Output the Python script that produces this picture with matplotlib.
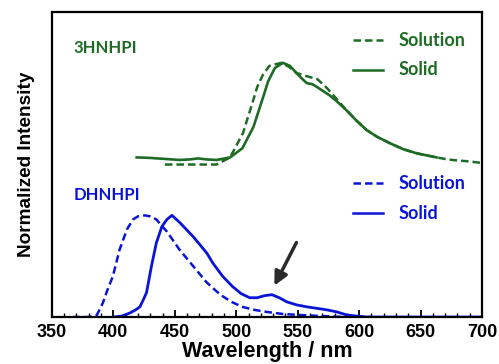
import numpy as np
import matplotlib
matplotlib.use('Agg')
import matplotlib.pyplot as plt

# 3HNHPI (green), normalized, offset upwards
g_sol_wl = [442, 460, 484, 495, 505.5, 513, 517, 522, 527, 533, 537, 543, 549, 557, 566, 574, 582, 590, 598, 606, 615, 625, 636, 647, 655, 663, 672, 680, 690, 700]
g_sol_y = [0.0, 0.0, 0.0, 0.07, 0.31, 0.60, 0.76, 0.89, 0.97, 0.99, 1.0, 0.96, 0.90, 0.87, 0.84, 0.75, 0.64, 0.53, 0.43, 0.34, 0.27, 0.21, 0.15, 0.11, 0.09, 0.07, 0.05, 0.04, 0.03, 0.015]
g_sld_wl = [419, 430, 442, 454, 462, 469, 476, 484, 495, 505, 514, 521, 526, 531.5, 538, 543.7, 549, 553, 557.5, 562, 566, 571, 576, 582, 590, 598, 606, 615, 625, 636, 647, 655, 663]
g_sld_y = [0.07, 0.065, 0.055, 0.045, 0.05, 0.06, 0.05, 0.045, 0.07, 0.16, 0.37, 0.63, 0.82, 0.95, 1.0, 0.97, 0.90, 0.85, 0.80, 0.79, 0.76, 0.72, 0.68, 0.62, 0.53, 0.43, 0.34, 0.27, 0.21, 0.15, 0.11, 0.09, 0.07]

# DHNHPI (blue), normalized
b_sol_wl = [367, 380, 386.6, 391.5, 395, 399.6, 405, 411, 416, 420, 425.7, 430, 435, 443.6, 454, 465, 476, 487, 496, 505, 515, 525, 538, 552, 570, 590, 610]
b_sol_y = [0.0, 0.0, 0.02, 0.14, 0.26, 0.40, 0.66, 0.86, 0.96, 0.99, 1.0, 0.99, 0.96, 0.84, 0.66, 0.50, 0.34, 0.22, 0.15, 0.10, 0.07, 0.05, 0.03, 0.02, 0.01, 0.0, 0.0]
b_sld_wl = [400, 407, 413.5, 418, 421.6, 424, 427, 431, 435, 439.5, 443.6, 447.7, 454, 465, 476, 481, 489, 497, 504, 511, 517, 523, 529, 535, 541, 549, 557.5, 566, 574, 582, 590, 598, 606, 630, 670, 700]
b_sld_y = [0.0, 0.01, 0.04, 0.07, 0.10, 0.16, 0.24, 0.50, 0.73, 0.89, 0.96, 1.0, 0.93, 0.79, 0.63, 0.53, 0.40, 0.30, 0.23, 0.19, 0.19, 0.21, 0.22, 0.19, 0.15, 0.12, 0.10, 0.085, 0.07, 0.05, 0.02, 0.01, 0.0, 0.0, 0.0, 0.0]

green_offset = 1.5
green = '#1d6b24'
blue = '#0a14d8'

fig = plt.figure(figsize=(4.99, 3.64), dpi=100)
ax = fig.add_axes([0.104, 0.129, 0.862, 0.838])

dash = (0, (3.0, 1.6))
ax.plot(g_sol_wl, np.array(g_sol_y) + green_offset, color=green, lw=1.8, linestyle=dash)
ax.plot(g_sld_wl, np.array(g_sld_y) + green_offset, color=green, lw=1.9)
ax.plot(b_sol_wl, b_sol_y, color=blue, lw=1.8, linestyle=dash)
ax.plot(b_sld_wl, b_sld_y, color=blue, lw=2.0)

ax.annotate('', xy=(530, 0.285), xytext=(550, 0.757),
            arrowprops=dict(arrowstyle='-|>,head_length=0.8,head_width=0.4', color='#2b2b2b', lw=2.5))

ax.set_xlim(350, 700)
ax.set_ylim(0, 3)
ax.set_yticks([])
ax.set_xticks(np.arange(350, 701, 50))
ax.set_xticks(np.arange(350, 701, 10), minor=True)
ax.tick_params(axis='x', which='major', direction='in', length=5, width=1.3, top=False, pad=5)
ax.tick_params(axis='x', which='minor', direction='in', length=3, width=1.0, top=False)
for s in ax.spines.values():
    s.set_linewidth(1.6)
for lab in ax.get_xticklabels():
    lab.set_fontfamily('Liberation Sans')
    lab.set_fontweight('bold')
    lab.set_fontsize(13)

ax.set_xlabel('Wavelength / nm', fontfamily='Liberation Sans', fontweight='bold', fontsize=15.5, labelpad=0)
ax.set_ylabel('Normalized Intensity', fontfamily='Liberation Sans', fontweight='bold', fontsize=13.7, labelpad=12)

lab_font = dict(fontfamily='Lato', fontweight='bold', va='center', transform=ax.transAxes)
ax.text(0.051, 0.882, '3HNHPI', color=green, fontsize=12, **lab_font)
ax.text(0.051, 0.400, 'DHNHPI', color=blue, fontsize=12, **lab_font)

leg = [(0.908, dash, green, 'Solution'), (0.81, '-', green, 'Solid'),
       (0.439, dash, blue, 'Solution'), (0.341, '-', blue, 'Solid')]
for yy, ls, c, t in leg:
    ax.plot([0.70, 0.77], [yy, yy], color=c, lw=1.8, linestyle=ls, transform=ax.transAxes)
    ax.text(0.805, yy, t, color=c, fontsize=13, **lab_font)

fig.savefig('out.png', dpi=100)
